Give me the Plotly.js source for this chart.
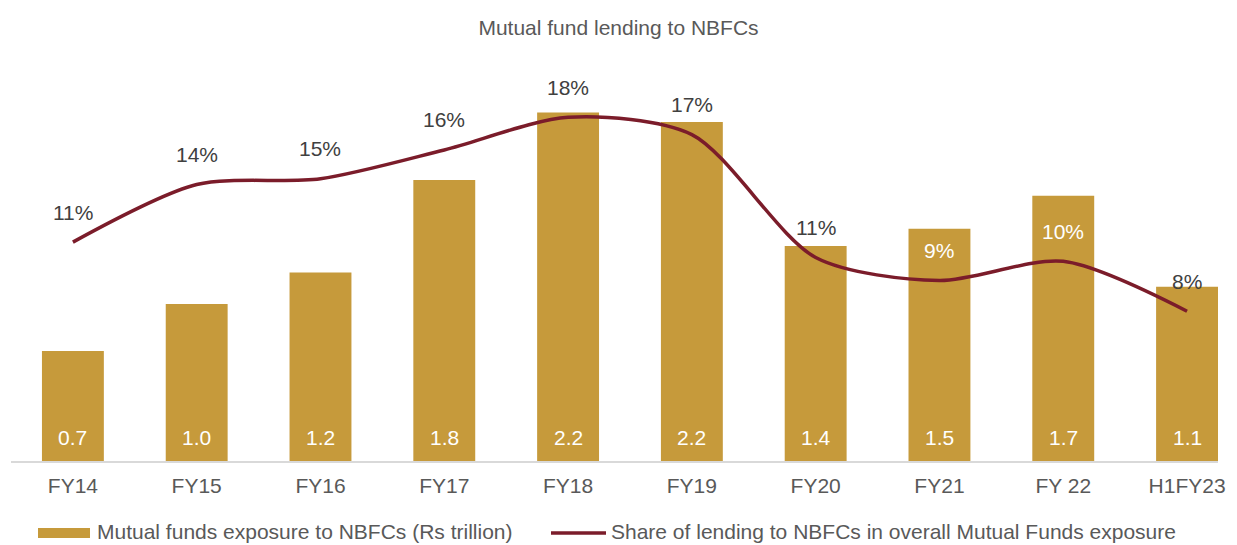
<!DOCTYPE html>
<html>
<head>
<meta charset="utf-8">
<script src="https://cdn.plot.ly/plotly-3.0.1.min.js"></script>
<style>
  html, body { margin: 0; padding: 0; background: #fff; }
  #chart { width: 1237px; height: 545px; }
</style>
</head>
<body>
<div id="chart"></div>
<script>
// ── Data ─────────────────────────────────────────────────────────────────────
const years = ["FY14", "FY15", "FY16", "FY17", "FY18", "FY19", "FY20", "FY21", "FY 22", "H1FY23"];
const exposure = [0.70, 1.00, 1.20, 1.79, 2.22, 2.16, 1.37, 1.48, 1.69, 1.11];   // Rs trillion
const sharePct = [11.4, 14.4, 14.7, 16.2, 17.9, 17.0, 10.6, 9.4, 10.4, 7.8];      // % of MF exposure
// labels sitting on top of a bar are printed in white
const shareOnBar = [false, false, false, false, false, false, false, true, true, false];
const barName = "Mutual funds exposure to NBFCs (Rs trillion)";
const lineName = "Share of lending to NBFCs in overall Mutual Funds exposure";

const BAR = "#C69A3B";
const LINE = "#7B1C2A";
const FONT = "Liberation Sans, Arial, sans-serif";
const FS = 21;

// plot box in page pixels (used for the hand-drawn legend only)
const W = 1237, H = 545, M = { l: 11, r: 19, t: 60, b: 84 };
const pw = W - M.l - M.r, ph = H - M.t - M.b;
const px = v => (v - M.l) / pw;
const py = v => (H - M.b - v) / ph;

const bars = {
  type: "bar", x: years, y: exposure, name: barName,
  marker: { color: BAR }, hoverinfo: "x+y",
};

const line = {
  type: "scatter", mode: "lines", x: years, y: sharePct, yaxis: "y2", name: lineName,
  line: { color: LINE, width: 3.5, shape: "spline", smoothing: 0.8 },
};

// value labels: bar values near the base, share % above the line points
const annotations = [];
years.forEach((c, i) => {
  annotations.push({
    x: c, y: 0, xref: "x", yref: "y", yanchor: "middle", yshift: 24,
    text: exposure[i].toFixed(1), showarrow: false,
    font: { family: FONT, size: FS, color: "#ffffff" },
  });
  annotations.push({
    x: c, y: sharePct[i], xref: "x", yref: "y2", yanchor: "middle", yshift: 30,
    text: Math.round(sharePct[i]) + "%", showarrow: false,
    font: { family: FONT, size: FS, color: shareOnBar[i] ? "#ffffff" : "#404040" },
  });
});

// legend, drawn by hand to get the wide Excel-style swatches
annotations.push(
  { xref: "paper", yref: "paper", x: px(96), y: py(531), xanchor: "left", yanchor: "middle",
    text: barName, showarrow: false, borderpad: 0,
    font: { family: FONT, size: FS, color: "#595959" } },
  { xref: "paper", yref: "paper", x: px(610), y: py(531), xanchor: "left", yanchor: "middle",
    text: lineName, showarrow: false, borderpad: 0,
    font: { family: FONT, size: FS, color: "#595959" } }
);
const shapes = [
  { type: "rect", xref: "paper", yref: "paper", x0: px(38), x1: px(90), y0: py(538), y1: py(528),
    fillcolor: BAR, line: { width: 0 } },
  { type: "line", xref: "paper", yref: "paper", x0: px(551), x1: px(606), y0: py(533), y1: py(533),
    line: { color: LINE, width: 3.5 } },
];

const layout = {
  width: W, height: H,
  margin: M,
  paper_bgcolor: "#fff", plot_bgcolor: "#fff",
  font: { family: FONT, size: FS, color: "#595959" },
  title: {
    text: "Mutual fund lending to NBFCs",
    font: { family: FONT, size: FS, color: "#595959" },
    x: 0.5, xanchor: "center", y: 1 - 28 / H, yanchor: "middle", yref: "container",
  },
  bargap: 0.5,
  showlegend: false,
  xaxis: {
    type: "category", range: [-0.5, 9.25],
    showgrid: false, zeroline: false,
    showline: true, linecolor: "#d9d9d9", linewidth: 1.5,
    ticks: "", ticklabelstandoff: 5,
    tickfont: { family: FONT, size: FS, color: "#595959" },
    fixedrange: true,
  },
  yaxis: {
    range: [0, ph / 157], visible: false, showgrid: false, zeroline: false, fixedrange: true,
  },
  yaxis2: {
    range: [0, ph / 19.2], overlaying: "y", side: "right",
    visible: false, showgrid: false, zeroline: false, fixedrange: true,
  },
  annotations: annotations,
  shapes: shapes,
};

Plotly.newPlot("chart", [bars, line], layout, { displayModeBar: false, staticPlot: true });
</script>
</body>
</html>
